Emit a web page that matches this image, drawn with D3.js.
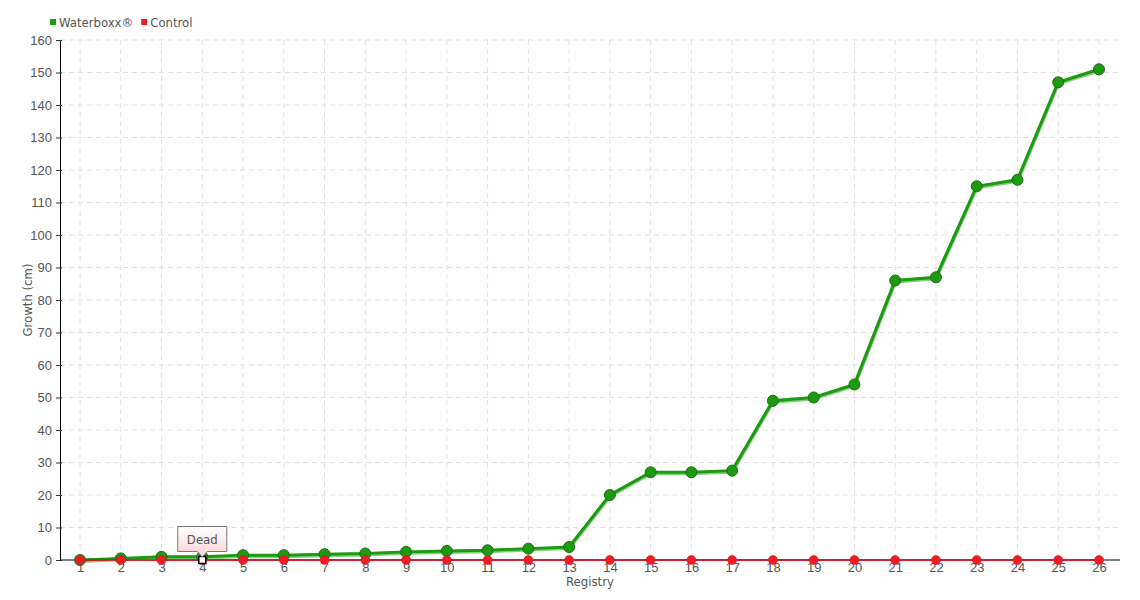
<!DOCTYPE html>
<html>
<head>
<meta charset="utf-8">
<script src="https://cdn.jsdelivr.net/npm/d3@7"></script>
<style>
  body { margin: 0; background: #fff; }
  svg { font-family: "DejaVu Sans Condensed", "Liberation Sans Narrow", sans-serif; font-stretch: condensed; }
</style>
</head>
<body>
<div id="chart"></div>
<script>
// data
var registry = d3.range(1, 27);
var waterboxx = [0, 0.5, 1, 1, 1.5, 1.5, 1.8, 2, 2.5, 2.8, 3, 3.5, 4, 20, 27, 27, 27.5, 49, 50, 54, 86, 87, 115, 117, 147, 151];
var control = [0, 0, 0, 0, 0, 0, 0, 0, 0, 0, 0, 0, 0, 0, 0, 0, 0, 0, 0, 0, 0, 0, 0, 0, 0, 0];
var yTicks = d3.range(0, 161, 10);
var deadAt = 4;
var seriesNames = ["Waterboxx®", "Control"];
var seriesColors = ["#1e9a12", "#ee1c25"];

var W = 1140, H = 600;
var margin = {top: 40, right: 20, bottom: 40, left: 60};
var width = W - margin.left - margin.right,
    height = H - margin.top - margin.bottom;

var svg = d3.select("#chart").append("svg")
    .attr("width", W).attr("height", H);

var defs = svg.append("defs");
var grad = defs.append("linearGradient").attr("id", "tipgrad")
    .attr("x1", 0).attr("y1", 0).attr("x2", 0).attr("y2", 1);
grad.append("stop").attr("offset", "0%").attr("stop-color", "#ffffff");
grad.append("stop").attr("offset", "100%").attr("stop-color", "#fbd3d3");

var g = svg.append("g")
    .attr("transform", "translate(" + margin.left + "," + margin.top + ")");

// point 1 at x=80, point 26 at x=1099
var x = d3.scaleLinear().domain([1, 26]).range([20, 1039]);
var y = d3.scaleLinear().domain([0, 160]).range([height, 0]);

// grid
g.append("g").selectAll("line").data(yTicks.slice(1)).enter().append("line")
    .attr("x1", 0).attr("x2", width)
    .attr("y1", d => y(d)).attr("y2", d => y(d))
    .attr("stroke", "#e2e2e2").attr("stroke-dasharray", "5,4");
g.append("g").selectAll("line").data(registry).enter().append("line")
    .attr("x1", d => x(d)).attr("x2", d => x(d))
    .attr("y1", 0).attr("y2", height)
    .attr("stroke", "#e2e2e2").attr("stroke-dasharray", "5,4");

// axes
var yAxis = g.append("g")
    .call(d3.axisLeft(y).tickValues(yTicks).tickSize(4).tickPadding(4));
var xAxis = g.append("g").attr("transform", "translate(0," + height + ")")
    .call(d3.axisBottom(x).tickValues(registry).tickSize(0).tickPadding(3));
xAxis.select(".domain").attr("d", "M0,0H" + width);
[yAxis, xAxis].forEach(a => {
  a.select(".domain").attr("stroke", "#000");
  a.selectAll(".tick text").attr("fill", "#555").style("font-size", "13px");
  a.selectAll(".tick line").attr("stroke", "#333");
});
yAxis.selectAll(".tick line").attr("x1", 2);

// axis titles
g.append("text").attr("transform", "rotate(-90)")
    .attr("x", -height / 2).attr("y", -28)
    .attr("text-anchor", "middle").attr("fill", "#555").style("font-size", "13px")
    .text("Growth (cm)");
g.append("text").attr("x", 530).attr("y", height + 26)
    .attr("text-anchor", "middle").attr("fill", "#555").style("font-size", "13px")
    .text("Registry");

// lines
var line = d3.line().x((d, i) => x(registry[i])).y(d => y(d));
g.append("path").datum(waterboxx).attr("d", line)
    .attr("fill", "none").attr("stroke", "#7fd07a").attr("stroke-width", 4)
    .attr("transform", "translate(0,1)");
g.append("path").datum(waterboxx).attr("d", line)
    .attr("fill", "none").attr("stroke", seriesColors[0]).attr("stroke-width", 3);
g.append("path").datum(control).attr("d", line)
    .attr("fill", "none").attr("stroke", "#e8001a").attr("stroke-width", 1.5);

// points
g.append("g").selectAll("circle").data(waterboxx).enter().append("circle")
    .attr("cx", (d, i) => x(registry[i])).attr("cy", d => y(d)).attr("r", 5.5)
    .attr("fill", seriesColors[0]).attr("stroke", "#17700f").attr("stroke-width", 1);
g.append("g").selectAll("circle").data(control).enter().append("circle")
    .attr("cx", (d, i) => x(registry[i])).attr("cy", d => y(d)).attr("r", 4.5)
    .attr("fill", seriesColors[1]).attr("stroke", "#d0101c").attr("stroke-width", 0.5);

// dead marker
var dx = x(deadAt), dy = y(control[deadAt - 1]);
g.append("rect").attr("x", dx - 3.5).attr("y", dy - 3.5).attr("width", 7).attr("height", 7)
    .attr("fill", "#fff").attr("stroke", "#000").attr("stroke-width", 1.5);
var tip = g.append("g").attr("transform", "translate(" + dx + "," + (dy - 8) + ")");
tip.append("path")
    .attr("d", "M-24.5,-25.5H24.5V-0.5H5L0,5L-5,-0.5H-24.5Z")
    .attr("fill", "url(#tipgrad)").attr("stroke", "#777").attr("stroke-width", 1);
tip.append("text").attr("x", 0).attr("y", -8).attr("text-anchor", "middle")
    .attr("fill", "#555").style("font-size", "13px").text("Dead");

// legend
var leg = svg.append("g").attr("transform", "translate(50,22)");
var lx = 0;
seriesNames.forEach((n, i) => {
  var it = leg.append("g").attr("transform", "translate(" + lx + ",0)");
  it.append("rect").attr("x", 0).attr("y", -3).attr("width", 6).attr("height", 6)
      .attr("fill", seriesColors[i]);
  var t = it.append("text").attr("x", 9).attr("y", 5)
      .attr("fill", "#555").style("font-size", "13px").text(n);
  lx += 9 + t.node().getComputedTextLength() + 8;
});
</script>
</body>
</html>
